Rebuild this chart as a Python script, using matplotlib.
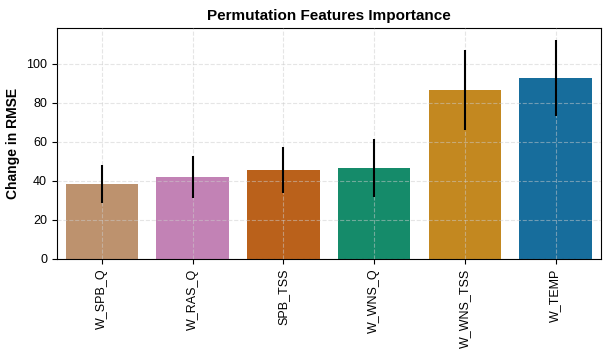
import matplotlib
matplotlib.use("Agg")
import matplotlib.pyplot as plt
import seaborn as sns
import numpy as np

features = ["W_SPB_Q", "W_RAS_Q", "SPB_TSS", "W_WNS_Q", "W_WNS_TSS", "W_TEMP"]
importance = [38.5, 42.1, 45.7, 46.7, 86.8, 92.9]
err = [9.6, 10.7, 11.7, 15.0, 20.6, 19.6]

plt.rcParams['font.family'] = ['Liberation Sans', 'DejaVu Sans']

# couleurs : palette colorblind inversée, désaturée comme seaborn
pal = sns.color_palette("colorblind", 6)[::-1]
pal = [sns.desaturate(c, 0.75) for c in pal]

fig, ax = plt.subplots(figsize=(6.1, 3.58), dpi=100)
x = np.arange(len(features))
ax.bar(x, importance, width=0.8, color=pal, zorder=2)
ax.errorbar(x, importance, yerr=err, fmt='none', ecolor='black', elinewidth=1.5, capsize=0, zorder=3)

ax.set_xticks(x)
ax.set_xticklabels(features, rotation=90, fontsize=9)
ax.tick_params(axis='y', labelsize=9)
ax.set_xlim(-0.5, 5.5)
ax.set_ylim(0, 118.5)
ax.set_yticks([0, 20, 40, 60, 80, 100])
ax.set_ylabel("Change in RMSE", fontsize=10, fontweight='bold')
ax.set_title("Permutation Features Importance", fontsize=11, fontweight='bold')
ax.grid(True, linestyle='--', color='#cccccc', alpha=0.5, linewidth=0.8, zorder=4)
ax.set_axisbelow(False)
for s in ax.spines.values():
    s.set_color('black')

fig.subplots_adjust(left=0.093, right=0.985, top=0.922, bottom=0.277)
fig.savefig("out.png", dpi=100)
